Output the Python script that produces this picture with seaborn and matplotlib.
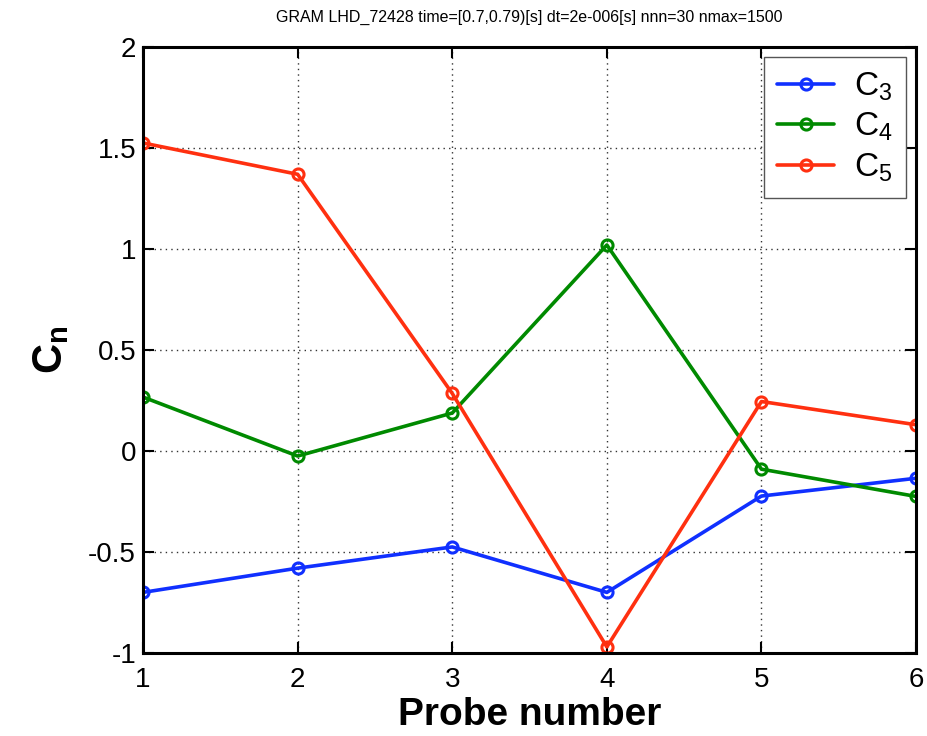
import numpy as np
import pandas as pd
import matplotlib
matplotlib.use("Agg")
import matplotlib.pyplot as plt
import seaborn as sns

probes = [1, 2, 3, 4, 5, 6]
c3 = [-0.70, -0.58, -0.475, -0.70, -0.223, -0.135]
c4 = [0.267, -0.025, 0.188, 1.02, -0.09, -0.225]
c5 = [1.525, 1.37, 0.285, -0.97, 0.245, 0.13]
series_names = [r"$\mathregular{C_3}$", r"$\mathregular{C_4}$", r"$\mathregular{C_5}$"]
colors = ["#1030ff", "#008a00", "#ff3010"]
title = "GRAM LHD_72428 time=[0.7,0.79)[s] dt=2e-006[s] nnn=30 nmax=1500"

df = pd.DataFrame({
    "probe": probes * 3,
    "value": c3 + c4 + c5,
    "series": [series_names[0]] * 6 + [series_names[1]] * 6 + [series_names[2]] * 6,
})

sns.set_style("white")
plt.rcParams["font.family"] = ["Liberation Sans", "DejaVu Sans"]
plt.rcParams["mathtext.fontset"] = "custom"
plt.rcParams["mathtext.rm"] = "Liberation Sans"
plt.rcParams["mathtext.bf"] = "Liberation Sans:bold"
plt.rcParams["text.color"] = "black"
plt.rcParams["axes.labelcolor"] = "black"
plt.rcParams["xtick.color"] = "black"
plt.rcParams["ytick.color"] = "black"

fig = plt.figure(figsize=(9.27, 7.36), dpi=100)
ax = fig.add_axes([0.1543, 0.1128, 0.8339, 0.8233])

sns.lineplot(data=df, x="probe", y="value", hue="series", palette=colors,
             marker="o", markersize=8, markerfacecolor="none", markeredgewidth=2.2,
             linewidth=2.6, ax=ax, legend=True)
for line, c in zip(ax.lines, colors):
    line.set_markeredgecolor(c)

ax.set_xlim(1, 6)
ax.set_ylim(-1, 2)
ax.set_xticks([1, 2, 3, 4, 5, 6])
ax.set_yticks([-1, -0.5, 0, 0.5, 1, 1.5, 2])
ax.set_yticklabels(["-1", "-0.5", "0", "0.5", "1", "1.5", "2"])
ax.grid(True, linestyle=(0, (1, 3)), color="#333333", linewidth=1)
ax.tick_params(direction="in", length=8, width=1.5, labelsize=20,
               top=True, right=True, bottom=True, left=True)
ax.tick_params(axis="x", pad=10)
ax.tick_params(axis="y", pad=5)
for s in ax.spines.values():
    s.set_linewidth(2.2)
    s.set_color("black")

ax.set_xlabel("Probe number", fontsize=28, fontweight="bold", labelpad=3)
ax.set_ylabel(r"$\mathbf{C_n}$", fontsize=30, labelpad=12)
ax.set_title(title, fontsize=11.5, pad=18)

handles, labels = ax.get_legend_handles_labels()
for h, c in zip(handles, colors):
    h.set_markeredgecolor(c)
    h.set_markerfacecolor("none")
leg = ax.legend(handles, labels, loc="upper right", fontsize=24, frameon=True,
                fancybox=False, edgecolor="#555555", framealpha=1,
                borderaxespad=0.3, handlelength=1.7, labelspacing=0.25,
                borderpad=0.4, handletextpad=0.6)
leg.get_frame().set_linewidth(1)

fig.savefig("out.png", dpi=100)
